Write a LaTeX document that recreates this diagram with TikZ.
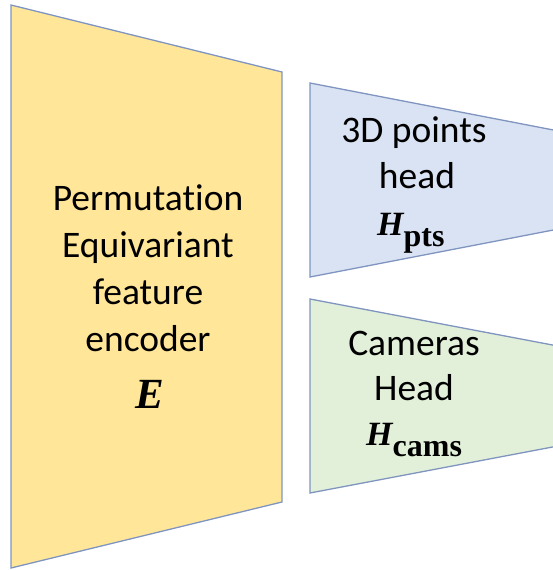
\documentclass[tikz,border=0pt]{standalone}
\usepackage{fontspec}
\setmainfont{Carlito}[Ligatures=NoCommon]
\newfontfamily\symfont{Liberation Serif}
\definecolor{encfill}{HTML}{FFE699}
\definecolor{ptsfill}{HTML}{DAE3F3}
\definecolor{camfill}{HTML}{E2F0D9}
\definecolor{edge}{HTML}{7F95C0}
\tikzset{
  block/.style={draw=edge, line width=1.3pt, line join=miter},
  label/.style={anchor=base, inner sep=0pt, font=\fontsize{37.5}{44}\selectfont, text=black},
  symb/.style={anchor=base west, inner sep=0pt, text=black},
}
\newcommand{\bigsym}[1]{{\symfont\fontsize{43}{48}\selectfont\bfseries\itshape #1}}
\newcommand{\headsym}[2]{{\symfont\fontsize{34}{40}\selectfont\bfseries\itshape #1}\raisebox{-11pt}{\symfont\fontsize{32}{36}\selectfont\bfseries #2}}
\begin{document}
\begin{tikzpicture}[x=1pt, y=-1pt]
  \useasboundingbox (0,0) rectangle (553,570);
  \clip (0,0) rectangle (553,570);

  % encoder trapezoid
  \draw[block, fill=encfill] (11,5) -- (282,72) -- (282,502) -- (11,568) -- cycle;
  % 3D points head
  \draw[block, fill=ptsfill] (310,83) -- (600,139) -- (600,221) -- (310,277) -- cycle;
  % cameras head
  \draw[block, fill=camfill] (310,299) -- (600,354) -- (600,438) -- (310,493) -- cycle;

  % encoder labels
  \node[label] (enc1) at (148,210) {Permutation};
  \node[label] (enc2) at (148,257) {Equivariant};
  \node[label] (enc3) at (148,304) {feature};
  \node[label] (enc4) at (148,351) {encoder};
  \node[symb, anchor=base] (encsym) at (150,408) {\bigsym{E}};

  % 3D points head labels
  \node[label] (pts1) at (414,142) {3D points};
  \node[label] (pts2) at (417,188) {head};
  \node[symb] (ptssym) at (377,235) {\headsym{H}{pts}};

  % cameras head labels
  \node[label] (cam1) at (414,355) {Cameras};
  \node[label] (cam2) at (414,400) {Head};
  \node[symb] (camsym) at (366,445) {\headsym{H}{cams}};
\end{tikzpicture}
\end{document}
